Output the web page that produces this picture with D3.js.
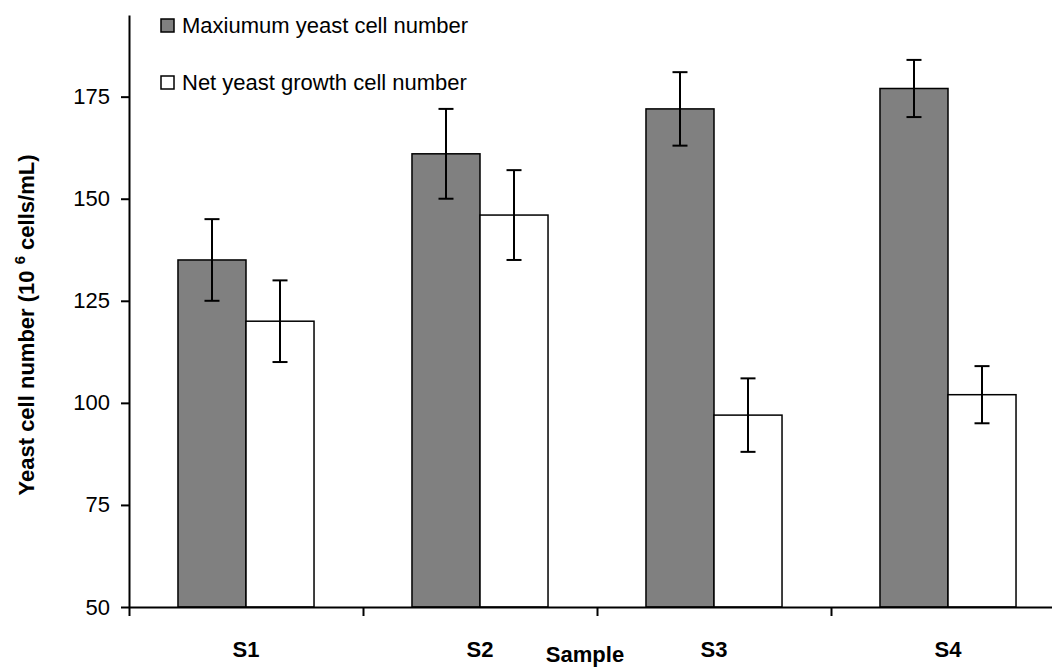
<!DOCTYPE html>
<html lang="en">
  <head>
    <meta charset="utf-8">
    <title>Yeast cell number</title>
    <script src="https://d3js.org/d3.v7.min.js"></script>
    <style type="text/css">
      body {
        margin: 0;
        background-color: #FFFFFF;
        font-family: 'Liberation Sans', Arial, sans-serif;
      }
      .axis path, .axis line {
        stroke: #000000;
        stroke-width: 2;
      }
      .axis text {
        fill: #000000;
        font-size: 22px;
      }
      .x-labels text {
        font-weight: bold;
      }
      .errbar {
        stroke: #000000;
        stroke-width: 2;
      }
    </style>
  </head>
  <body>
  <script type="text/javascript">
    // Data
    var samples = ["S1", "S2", "S3", "S4"],
        seriesNames = ["Maxiumum yeast cell number", "Net yeast growth cell number"],
        seriesFill = ["#808080", "#FFFFFF"],
        maxCells = [135, 161, 172, 177],
        maxErr = [10, 11, 9, 7],
        netCells = [120, 146, 97, 102],
        netErr = [10, 11, 9, 7],
        yTicks = [50, 75, 100, 125, 150, 175];

    var W = 1052, H = 667,
        x0Left = 129, catStep = 234,
        yBottom = 607, yTop = 15;

    var svg = d3.select("body").append("svg")
        .attr("width", W)
        .attr("height", H);

    var x0 = d3.scaleBand()
        .domain(samples)
        .range([x0Left, x0Left + catStep * samples.length])
        .padding(0);

    var x1 = d3.scaleBand()
        .domain([0, 1])
        .range([0, x0.bandwidth()])
        .paddingInner(0)
        .paddingOuter(0.72);

    var xEdge = d3.scaleLinear()
        .domain([0, samples.length])
        .range(x0.range());

    var y = d3.scaleLinear()
        .domain([50, 195])
        .range([yBottom, yTop]);

    var rows = samples.map(function(s, i) {
      return {
        sample: s,
        vals: [
          {k: 0, v: maxCells[i], e: maxErr[i]},
          {k: 1, v: netCells[i], e: netErr[i]}
        ]
      };
    });

    var groups = svg.selectAll(".grp")
        .data(rows)
      .enter().append("g")
        .attr("class", "grp")
        .attr("transform", function(d) { return "translate(" + x0(d.sample) + ",0)"; });

    groups.selectAll("rect")
        .data(function(d) { return d.vals; })
      .enter().append("rect")
        .attr("x", function(d) { return x1(d.k); })
        .attr("y", function(d) { return y(d.v); })
        .attr("width", x1.bandwidth())
        .attr("height", function(d) { return y(50) - y(d.v); })
        .attr("fill", function(d) { return seriesFill[d.k]; })
        .attr("stroke", "#000")
        .attr("stroke-width", 1.5);

    // error bars
    var capW = 7.5;
    var eb = groups.selectAll(".eb")
        .data(function(d) { return d.vals; })
      .enter().append("g")
        .attr("class", "errbar")
        .attr("transform", function(d) { return "translate(" + (x1(d.k) + x1.bandwidth() / 2) + ",0)"; });
    eb.append("line")
        .attr("y1", function(d) { return y(d.v + d.e); })
        .attr("y2", function(d) { return y(d.v - d.e); });
    eb.append("line")
        .attr("x1", -capW).attr("x2", capW)
        .attr("y1", function(d) { return y(d.v + d.e); })
        .attr("y2", function(d) { return y(d.v + d.e); });
    eb.append("line")
        .attr("x1", -capW).attr("x2", capW)
        .attr("y1", function(d) { return y(d.v - d.e); })
        .attr("y2", function(d) { return y(d.v - d.e); });

    // y axis
    svg.append("g")
        .attr("class", "axis")
        .attr("transform", "translate(" + x0Left + ",0)")
        .call(d3.axisLeft(y).tickValues(yTicks).tickSize(8).tickSizeOuter(0).tickPadding(11));

    // x axis, ticks sit between the categories
    svg.append("g")
        .attr("class", "axis")
        .attr("transform", "translate(0," + yBottom + ")")
        .call(d3.axisBottom(xEdge).tickValues(d3.range(samples.length + 1)).tickFormat("").tickSize(9).tickSizeOuter(0));

    svg.append("g")
        .attr("class", "axis x-labels")
        .attr("transform", "translate(0," + yBottom + ")")
        .call(d3.axisBottom(x0).tickSize(0).tickPadding(34))
        .call(function(g) { g.select(".domain").remove(); });

    svg.append("text")
        .attr("x", 585)
        .attr("y", 662)
        .attr("text-anchor", "middle")
        .attr("font-size", 22)
        .attr("font-weight", "bold")
        .text("Sample");

    var yLab = svg.append("text")
        .attr("transform", "translate(34,325) rotate(-90)")
        .attr("text-anchor", "middle")
        .attr("font-size", 22)
        .attr("font-weight", "bold");
    yLab.append("tspan").text("Yeast cell number (10 ");
    yLab.append("tspan").attr("dy", -9).attr("font-size", 15).text("6");
    yLab.append("tspan").attr("dy", 9).text(" cells/mL)");

    // legend
    var legend = svg.selectAll(".legend")
        .data(seriesNames)
      .enter().append("g")
        .attr("class", "legend")
        .attr("transform", function(d, i) { return "translate(161," + (19 + i * 57) + ")"; });
    legend.append("rect")
        .attr("width", 13)
        .attr("height", 13)
        .attr("fill", function(d, i) { return seriesFill[i]; })
        .attr("stroke", "#000")
        .attr("stroke-width", 1.5);
    legend.append("text")
        .attr("x", 21)
        .attr("y", 14)
        .attr("font-size", 22)
        .text(function(d) { return d; });
  </script>
  </body>
</html>
